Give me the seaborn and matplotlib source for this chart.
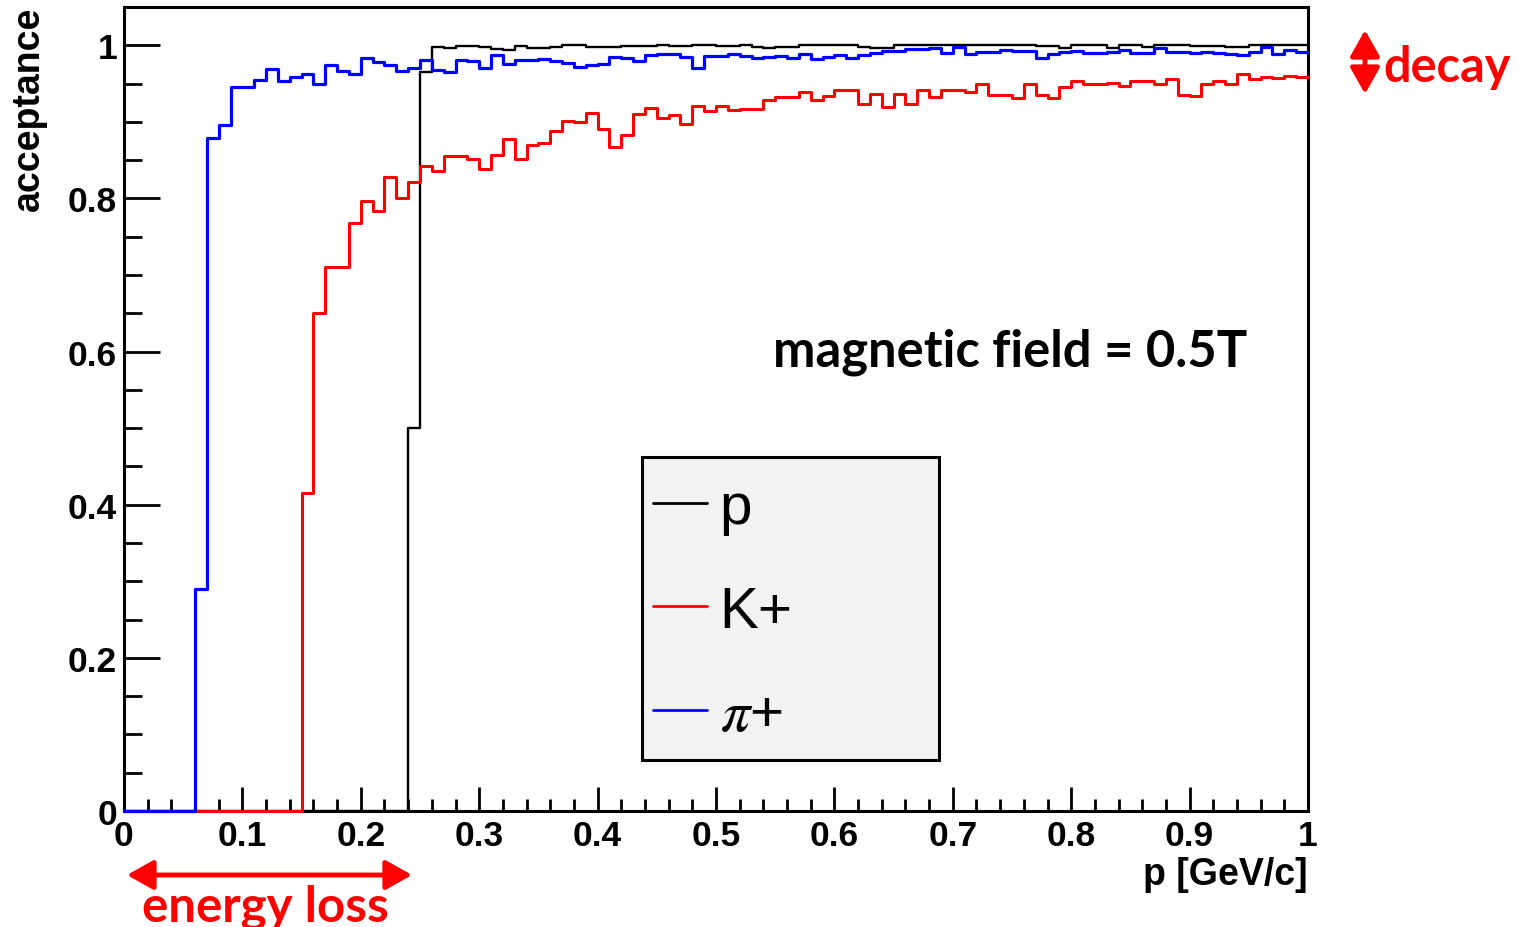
import numpy as np
import matplotlib
matplotlib.use("Agg")
import matplotlib.pyplot as plt
import seaborn as sns
from matplotlib.ticker import MultipleLocator
from matplotlib.patches import Rectangle

# ---------------- data ----------------
n_bins = 100
p_range = (0.0, 1.0)

p_acc = [0.0] * 24 + [
    0.500, 0.965, 0.998, 0.997, 0.999, 0.999, 0.998, 0.995, 0.994, 0.999,
    0.997, 0.997, 0.998, 1.000, 1.000, 0.998, 0.998, 0.998, 0.999, 0.999,
    0.999, 1.000, 0.999, 0.999, 1.000, 1.000, 0.999, 0.999, 1.000, 0.998,
    0.996, 0.998, 0.998, 1.000, 1.000, 1.000, 1.000, 1.000, 0.998, 0.996,
    0.996, 1.000, 1.000, 1.000, 1.000, 1.000, 1.000, 1.000, 1.000, 1.000,
    1.000, 1.000, 1.000, 0.999, 0.999, 0.997, 1.000, 1.000, 1.000, 0.996,
    1.000, 1.000, 0.998, 1.000, 1.000, 1.000, 0.999, 0.999, 0.999, 0.998,
    0.998, 1.000, 1.000, 1.000, 1.000, 1.000]

k_acc = [0.0] * 15 + [
    0.415, 0.651, 0.711, 0.710, 0.768, 0.797, 0.784, 0.828, 0.800, 0.821,
    0.842, 0.836, 0.855, 0.855, 0.851, 0.839, 0.857, 0.877, 0.851, 0.870,
    0.873, 0.888, 0.901, 0.900, 0.911, 0.891, 0.867, 0.883, 0.910, 0.918,
    0.905, 0.909, 0.897, 0.921, 0.914, 0.921, 0.916, 0.917, 0.917, 0.928,
    0.933, 0.932, 0.939, 0.928, 0.934, 0.941, 0.941, 0.923, 0.936, 0.920,
    0.936, 0.923, 0.941, 0.932, 0.941, 0.941, 0.939, 0.950, 0.935, 0.935,
    0.931, 0.950, 0.935, 0.931, 0.946, 0.953, 0.949, 0.950, 0.951, 0.947,
    0.953, 0.954, 0.949, 0.956, 0.935, 0.934, 0.950, 0.954, 0.950, 0.963,
    0.956, 0.959, 0.957, 0.960, 0.959]

pi_acc = [0.0] * 6 + [
    0.290, 0.879, 0.896, 0.945, 0.946, 0.955, 0.969, 0.953, 0.959, 0.963,
    0.950, 0.974, 0.966, 0.963, 0.983, 0.978, 0.974, 0.966, 0.970, 0.981,
    0.968, 0.965, 0.981, 0.979, 0.970, 0.987, 0.975, 0.981, 0.981, 0.982,
    0.979, 0.977, 0.971, 0.974, 0.976, 0.985, 0.983, 0.979, 0.987, 0.988,
    0.989, 0.985, 0.970, 0.986, 0.986, 0.988, 0.986, 0.984, 0.985, 0.986,
    0.984, 0.988, 0.982, 0.985, 0.987, 0.984, 0.987, 0.990, 0.993, 0.993,
    0.995, 0.995, 0.996, 0.990, 0.998, 0.988, 0.991, 0.991, 0.994, 0.992,
    0.992, 0.984, 0.989, 0.991, 0.992, 0.990, 0.990, 0.991, 0.994, 0.990,
    0.990, 0.997, 0.991, 0.991, 0.990, 0.991, 0.990, 0.988, 0.987, 0.991,
    0.998, 0.988, 0.994, 0.991]

series_labels = ["p", "K+", r"$\pi$+"]
series_colors = ["#000000", "#ff0000", "#0000ff"]

x_ticks = [0.0, 0.1, 0.2, 0.3, 0.4, 0.5, 0.6, 0.7, 0.8, 0.9, 1.0]
x_tick_labels = ["0", "0.1", "0.2", "0.3", "0.4", "0.5", "0.6", "0.7", "0.8", "0.9", "1"]
y_ticks = [0.0, 0.2, 0.4, 0.6, 0.8, 1.0]
y_tick_labels = ["0", "0.2", "0.4", "0.6", "0.8", "1"]

# ---------------- style ----------------
sns.set_theme(style="ticks")
plt.rcParams["font.family"] = ["Liberation Sans", "DejaVu Sans"]
plt.rcParams["mathtext.fontset"] = "stix"
plt.rcParams["text.color"] = "black"
plt.rcParams["axes.labelcolor"] = "black"
plt.rcParams["xtick.color"] = "black"
plt.rcParams["ytick.color"] = "black"
plt.rcParams["axes.edgecolor"] = "black"

W, H = 1519, 928
fig = plt.figure(figsize=(W / 100, H / 100), dpi=100)
ax_x0, ax_y0, ax_w, ax_h = 124, 8, 1184, 804   # pixel box of the axes (top-left origin)
ax = fig.add_axes([ax_x0 / W, 1 - (ax_y0 + ax_h) / H, ax_w / W, ax_h / H])


def px_to_axes(x, y):
    return (x - ax_x0) / ax_w, (ax_y0 + ax_h - y) / ax_h


centers = (np.arange(n_bins) + 0.5) / n_bins
series = [p_acc, k_acc, pi_acc]
widths = [1.7, 2.2, 2.3]
for vals, col, lab, lw in zip(series, series_colors, series_labels, widths):
    sns.histplot(x=centers, weights=np.asarray(vals), bins=n_bins, binrange=p_range,
                 element="step", fill=False, color=col, linewidth=lw,
                 label=lab, ax=ax, zorder=3, clip_on=False)

ax.set_xlim(0, 1)
ax.set_ylim(0, 1.05)
ax.set_xlabel("")
ax.set_ylabel("")
ax.set_xticks(x_ticks, labels=x_tick_labels, fontsize=25.5, fontweight="bold")
ax.set_yticks(y_ticks, labels=y_tick_labels, fontsize=25.5, fontweight="bold")
ax.xaxis.set_minor_locator(MultipleLocator(0.02))
ax.yaxis.set_minor_locator(MultipleLocator(0.05))
ax.tick_params(axis="x", which="major", direction="in", length=17.5, width=2.0, pad=6, colors="black")
ax.tick_params(axis="x", which="minor", direction="in", length=8.5, width=2.0)
ax.tick_params(axis="y", which="major", direction="in", length=26, width=2.0, pad=5, colors="black")
ax.tick_params(axis="y", which="minor", direction="in", length=13, width=2.0)
ax.tick_params(top=False, right=False, which="both")
for s in ax.spines.values():
    s.set_color("black")
    s.set_linewidth(2.2)

# axis titles
fig.text(29 / W, 1 - 7 / H, "acceptance", rotation=90, ha="center", va="top",
         fontsize=27, fontweight="bold", color="black")
fig.text(1308 / W, 1 - 885 / H, "p [GeV/c]", ha="right", va="baseline",
         fontsize=27, fontweight="bold", color="black")

# legend: grey box drawn separately, entries placed inside it
bx0, by0 = px_to_axes(642, 761)
bx1, by1 = px_to_axes(939, 458)
ax.add_patch(Rectangle((bx0, by0), bx1 - bx0, by1 - by0, transform=ax.transAxes,
                       facecolor="#f2f2f2", edgecolor="black", linewidth=2.2,
                       zorder=5, clip_on=False))
lx, ly = px_to_axes(653, 482)
leg = ax.legend(loc="upper left", bbox_to_anchor=(lx, ly), borderaxespad=0,
                borderpad=0, fontsize=42, handlelength=0.92, handletextpad=0.22,
                labelspacing=0.85, frameon=False, labelcolor="black")
leg.set_zorder(6)
for line in leg.get_lines():
    line.set_linewidth(2.0)

# annotations
fig.text(773 / W, 1 - 367 / H, "magnetic field = 0.5T", ha="left", va="baseline",
         fontsize=36.5, fontweight="bold", family="Lato", color="black")
fig.text(1383 / W, 1 - 82 / H, "decay", ha="left", va="baseline",
         fontsize=35, fontweight="bold", family="Lato", color="#ff0000")
fig.text(142 / W, 1 - 922 / H, "energy loss", ha="left", va="baseline",
         fontsize=35.5, fontweight="bold", family="Lato", color="#ff0000")

arrow_kw = dict(arrowstyle="<|-|>,head_length=0.8,head_width=0.45", mutation_scale=20,
                color="#ff0000", lw=3.5, shrinkA=0, shrinkB=0)
ax.annotate("", xy=(1365, H - 31), xytext=(1365, H - 95), xycoords="figure pixels",
            textcoords="figure pixels", arrowprops=arrow_kw, annotation_clip=False)
ax.annotate("", xy=(412, H - 876), xytext=(127, H - 876), xycoords="figure pixels",
            textcoords="figure pixels", arrowprops=arrow_kw, annotation_clip=False)

fig.savefig("out.png", dpi=100)
